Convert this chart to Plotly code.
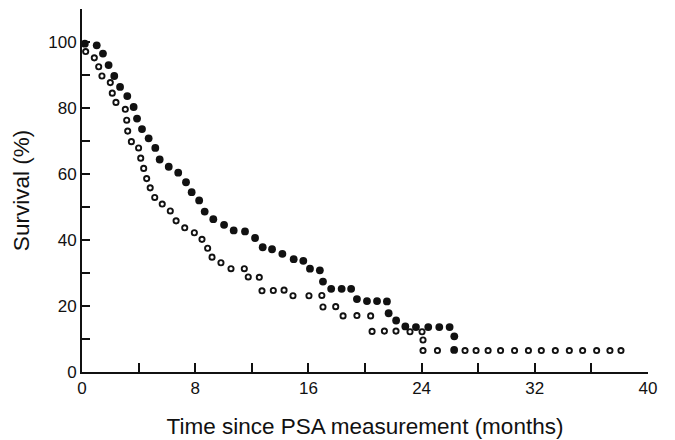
import plotly.graph_objects as go

# Group with filled markers
filled_months = [0.2, 1.04, 1.48, 1.88, 2.28, 2.69, 3.2, 3.65, 3.89, 4.24, 4.71, 5.18, 5.49, 6.13,
                 6.8, 7.35, 7.75, 8.28, 8.67, 9.28, 10.04, 10.72, 11.52, 12.23, 12.77, 13.43, 14.16,
                 14.96, 15.64, 16.11, 16.81, 17.03, 17.61, 18.35, 19.02, 19.43, 20.14, 20.85, 21.55,
                 21.67, 22.2, 22.85, 23.6, 24.47, 25.25, 25.98, 26.31, 26.3]
filled_survival = [99.5, 99.0, 96.5, 93.0, 89.7, 86.4, 83.6, 80.3, 76.8, 73.6, 70.8, 67.9, 64.4, 62.2,
                   60.4, 57.5, 54.5, 52.0, 48.6, 46.3, 44.6, 42.9, 42.6, 40.6, 37.8, 37.2, 35.8,
                   34.2, 33.7, 31.3, 30.8, 27.4, 25.2, 25.2, 25.2, 22.1, 21.5, 21.5, 21.4,
                   17.8, 15.6, 13.8, 13.6, 13.6, 13.6, 13.6, 10.8, 6.7]

# Group with open markers
open_months = [0.26, 0.87, 1.18, 1.41, 2.0, 2.14, 2.4, 3.06, 3.16, 3.23, 3.49, 4.0, 4.15, 4.36,
               4.57, 4.82, 5.14, 5.67, 6.24, 6.65, 7.26, 7.94, 8.48, 8.88, 9.19, 9.82, 10.53,
               11.47, 11.75, 12.53, 12.72, 13.52, 14.28, 14.91, 16.04, 16.95, 17.03, 17.93,
               18.45, 19.43, 20.4, 20.5, 21.37, 22.19, 23.18, 24.03, 24.1, 24.1, 25.12, 27.07,
               27.85, 28.7, 29.58, 30.57, 31.55, 32.46, 33.45, 34.44, 35.38, 36.37, 37.31, 38.09]
open_survival = [97.1, 95.2, 92.5, 89.7, 87.7, 84.5, 81.7, 79.6, 76.3, 73.0, 69.8, 67.9, 64.8, 61.7,
                 58.6, 55.8, 52.9, 50.9, 48.8, 45.8, 43.7, 42.2, 40.2, 37.5, 34.8, 33.1, 31.3,
                 31.3, 28.8, 28.7, 24.6, 24.7, 24.8, 23.1, 23.1, 23.2, 19.7, 19.8,
                 17.0, 17.1, 17.0, 12.3, 12.4, 12.4, 12.2, 12.2, 9.7, 6.5, 6.5, 6.5,
                 6.5, 6.5, 6.5, 6.5, 6.5, 6.5, 6.5, 6.5, 6.5, 6.5, 6.5, 6.5]

x_tick_vals = [0, 8, 16, 24, 32, 40]
y_tick_vals = [0, 20, 40, 60, 80, 100]

FONT = "Liberation Sans, Arial, sans-serif"
INK = "#111111"

fig = go.Figure()
fig.add_trace(go.Scatter(
    x=filled_months, y=filled_survival, mode="markers",
    marker=dict(symbol="circle", size=7.8, color=INK, line=dict(width=0)),
    cliponaxis=False, showlegend=False))
fig.add_trace(go.Scatter(
    x=open_months, y=open_survival, mode="markers",
    marker=dict(symbol="circle-open", size=5.2, color=INK, line=dict(width=1.9, color=INK)),
    cliponaxis=False, showlegend=False))

fig.update_layout(
    width=667, height=432,
    margin=dict(l=74, r=27, t=1, b=68),
    paper_bgcolor="white", plot_bgcolor="white",
    font=dict(family=FONT, color=INK, size=17),
    xaxis=dict(
        range=[0, 40], tickvals=x_tick_vals, ticktext=[str(v) for v in x_tick_vals],
        showgrid=False, zeroline=False, showline=True, linecolor=INK, linewidth=2,
        ticks="inside", ticklen=9, tickwidth=2, tickcolor=INK,
        minor=dict(tickvals=[4, 12, 20, 28, 36], ticks="inside", ticklen=9, tickwidth=2, tickcolor=INK),
        tickfont=dict(size=17),
        title=dict(text="Time since PSA measurement (months)", font=dict(size=22.5), standoff=21),
        automargin=False),
    yaxis=dict(
        range=[0, 110], tickvals=y_tick_vals, ticktext=[str(v) for v in y_tick_vals],
        showgrid=False, zeroline=False, showline=True, linecolor=INK, linewidth=2,
        ticks="inside", ticklen=8, tickwidth=2, tickcolor=INK,
        minor=dict(tickvals=[10, 30, 50, 70, 90, 110], ticks="inside", ticklen=8, tickwidth=2, tickcolor=INK),
        tickfont=dict(size=17),
        title=dict(text="Survival (%)", font=dict(size=22.5), standoff=12),
        automargin=False),
)

fig.write_html("out.html")
